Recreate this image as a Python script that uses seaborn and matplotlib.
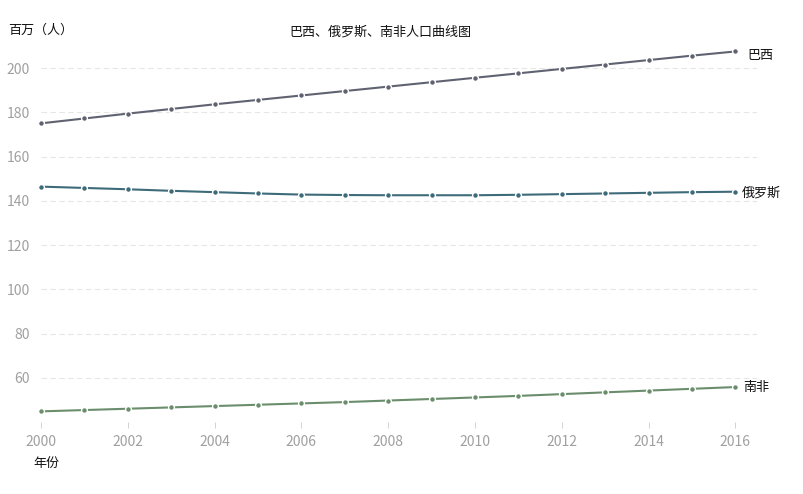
import matplotlib
matplotlib.use("Agg")
import matplotlib.pyplot as plt
import seaborn as sns
import pandas as pd

years = list(range(2000, 2017))
brazil = [175.0, 177.2, 179.4, 181.5, 183.6, 185.6, 187.6, 189.6, 191.6, 193.6,
          195.6, 197.6, 199.6, 201.6, 203.6, 205.6, 207.5]
russia = [146.4, 145.8, 145.2, 144.5, 143.9, 143.3, 142.8, 142.6, 142.5, 142.5,
          142.5, 142.7, 143.0, 143.3, 143.6, 143.9, 144.1]
south_africa = [44.8, 45.4, 46.0, 46.6, 47.2, 47.8, 48.4, 49.0, 49.7, 50.4,
                51.1, 51.8, 52.6, 53.4, 54.2, 55.0, 55.8]
series_names = ["巴西", "俄罗斯", "南非"]
series_colors = ["#5f6371", "#3e6b7a", "#6a8d6c"]
title = "巴西、俄罗斯、南非人口曲线图"
y_label = "百万（人）"
x_label = "年份"
y_ticks = [60, 80, 100, 120, 140, 160, 180, 200]
x_ticks = list(range(2000, 2017, 2))

df = pd.DataFrame({
    "year": years * 3,
    "value": brazil + russia + south_africa,
    "country": [series_names[0]] * len(years) + [series_names[1]] * len(years) + [series_names[2]] * len(years),
})

sns.set_theme(style="white")
plt.rcParams["font.family"] = ["Noto Sans CJK SC", "DejaVu Sans"]

fig = plt.figure(figsize=(8.04, 4.94), dpi=100)
ax = fig.add_axes([41 / 804, 72 / 494, (757 - 41) / 804, (452.5 - 72) / 494])

sns.lineplot(data=df, x="year", y="value", hue="country",
             palette=dict(zip(series_names, series_colors)),
             marker="o", markersize=4.2, markeredgecolor="white", markeredgewidth=1.0,
             linewidth=1.5, legend=False, ax=ax, clip_on=False)

ax.set_xlim(2000, 2016.5)
ax.set_ylim(40, 212)
ax.set_yticks(y_ticks)
ax.set_xticks(x_ticks)
ax.set_xticklabels([str(x) for x in x_ticks])
ax.yaxis.grid(True, linestyle=(0, (5, 3)), color="#e6e6e6", linewidth=0.8)
ax.xaxis.grid(False)
for s in ax.spines.values():
    s.set_visible(False)
ax.tick_params(axis="x", which="major", bottom=True, length=4, width=0.6,
               color="#cccccc", labelsize=10, labelcolor="#a0a0a0", pad=5)
ax.tick_params(axis="y", left=False, labelsize=10, labelcolor="#a0a0a0", pad=2)
ax.set_xlabel("")
ax.set_ylabel("")
ax.set_axisbelow(True)

fig.text(380 / 804, 1 - 32 / 494, title, ha="center", va="center", fontsize=9.4, color="#111111")
fig.text(8 / 804, 1 - 30 / 494, y_label, ha="left", va="center", fontsize=9.4, color="#111111")
fig.text(33 / 804, 1 - 463 / 494, x_label, ha="left", va="center", fontsize=9.4, color="#111111")

ends = [brazil[-1], russia[-1], south_africa[-1]]
offsets = [(9, -3), (5, -1), (6, 0)]
for name, v, off in zip(series_names, ends, offsets):
    ax.annotate(name, xy=(years[-1], v), xytext=off, textcoords="offset points",
                ha="left", va="center", fontsize=9.4, color="#111111", annotation_clip=False)

fig.savefig("out.png", dpi=100, facecolor="white")
